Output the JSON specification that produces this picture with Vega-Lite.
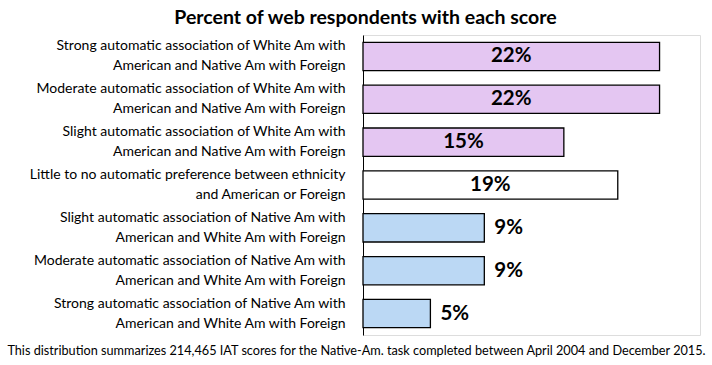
{
  "$schema": "https://vega.github.io/schema/vega-lite/v6.json",
  "autosize": "none",
  "width": 337,
  "height": 300,
  "padding": {"left": 363, "top": 35, "right": 12, "bottom": 30},
  "background": "white",
  "title": {
    "text": "Percent of web respondents with each score",
    "font": "Lato",
    "fontSize": 19.5,
    "fontWeight": "bold",
    "color": "black",
    "anchor": "middle",
    "dx": -166,
    "offset": 7
  },
  "data": {
    "values": [
      {"category": "Strong automatic association of White Am with|American and Native Am with Foreign", "value": 22.0, "label": "22%", "group": "white"},
      {"category": "Moderate automatic association of White Am with|American and Native Am with Foreign", "value": 22.0, "label": "22%", "group": "white"},
      {"category": "Slight automatic association of White Am with|American and Native Am with Foreign", "value": 14.9, "label": "15%", "group": "white"},
      {"category": "Little to no automatic preference between ethnicity|and American or Foreign", "value": 18.9, "label": "19%", "group": "neutral"},
      {"category": "Slight automatic association of Native Am with|American and White Am with Foreign", "value": 9.0, "label": "9%", "group": "native"},
      {"category": "Moderate automatic association of Native Am with|American and White Am with Foreign", "value": 9.0, "label": "9%", "group": "native"},
      {"category": "Strong automatic association of Native Am with|American and White Am with Foreign", "value": 5.0, "label": "5%", "group": "native"}
    ]
  },
  "encoding": {
    "y": {
      "field": "category",
      "type": "nominal",
      "sort": null,
      "scale": {"paddingInner": 0.34, "paddingOuter": 0.17},
      "axis": {
        "title": null,
        "labelExpr": "split(datum.label, '|')",
        "labelFont": "Lato",
        "labelFontSize": 14,
        "labelColor": "black",
        "labelLineHeight": 20,
        "labelPadding": 18,
        "labelOffset": -10,
        "labelLimit": 400,
        "ticks": false,
        "domainColor": "black",
        "domainWidth": 1
      }
    }
  },
  "layer": [
    {
      "mark": {"type": "bar", "stroke": "black", "strokeWidth": 1.3},
      "encoding": {
        "x": {
          "field": "value",
          "type": "quantitative",
          "scale": {"domain": [0, 25], "nice": false, "zero": true},
          "axis": {
            "title": "This distribution summarizes 214,465 IAT scores for the Native-Am. task completed between April 2004 and December 2015.",
            "titleFont": "Lato",
            "titleFontSize": 12.7,
            "titleFontWeight": "normal",
            "titleColor": "black",
            "titleX": -7,
            "titleY": 22,
            "titleAlign": "center",
            "titleBaseline": "bottom",
            "labels": false,
            "ticks": false,
            "domain": false,
            "grid": false
          }
        },
        "color": {
          "field": "group",
          "type": "nominal",
          "scale": {"domain": ["white", "neutral", "native"], "range": ["#E4C6F2", "#FFFFFF", "#BBD8F4"]},
          "legend": null
        }
      }
    },
    {
      "transform": [
        {"filter": "datum.group !== 'native'"},
        {"calculate": "datum.value / 2", "as": "mid"}
      ],
      "mark": {"type": "text", "font": "Lato", "fontSize": 20.5, "fontWeight": "bold", "align": "center", "baseline": "middle", "color": "black"},
      "encoding": {
        "x": {"field": "mid", "type": "quantitative"},
        "text": {"field": "label"}
      }
    },
    {
      "transform": [{"filter": "datum.group === 'native'"}],
      "mark": {"type": "text", "font": "Lato", "fontSize": 20.5, "fontWeight": "bold", "align": "left", "baseline": "middle", "dx": 10, "color": "black"},
      "encoding": {
        "x": {"field": "value", "type": "quantitative"},
        "text": {"field": "label"}
      }
    }
  ]
}
